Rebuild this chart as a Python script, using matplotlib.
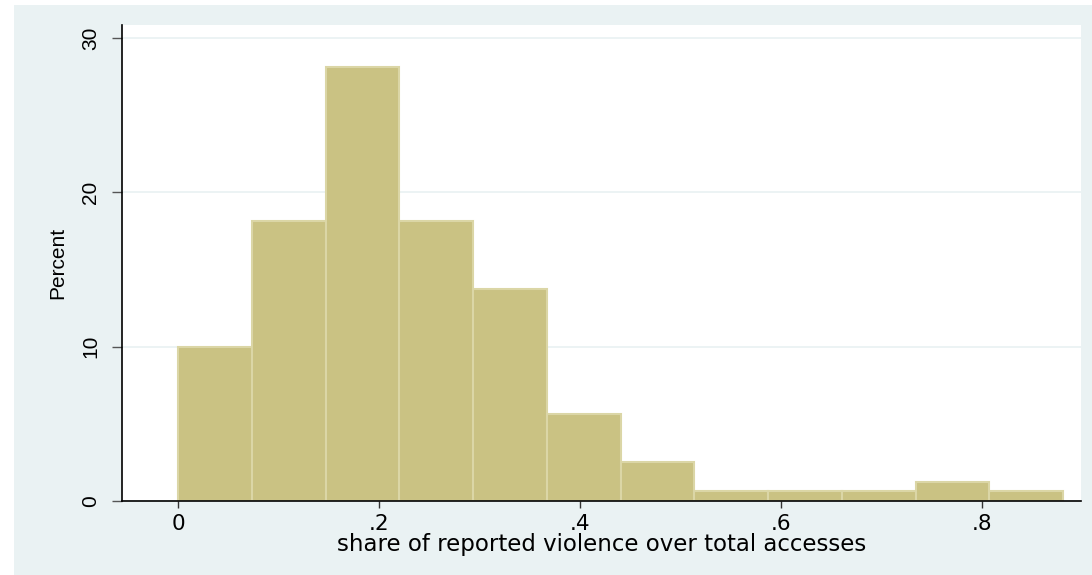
import matplotlib.pyplot as plt
from matplotlib.patches import Rectangle

# histogram bins (share of reported violence) and percent of observations per bin
bin_edges = [0.0, 0.0734, 0.1468, 0.2202, 0.2936, 0.367, 0.4404,
             0.5138, 0.5872, 0.6606, 0.734, 0.8074, 0.8808]
percent = [10.0, 18.125, 28.125, 18.125, 13.75, 5.625, 2.5,
           0.625, 0.625, 0.625, 1.25, 0.625]

x_ticks = [0, 0.2, 0.4, 0.6, 0.8]
x_tick_labels = ["0", ".2", ".4", ".6", ".8"]
y_ticks = [0, 10, 20, 30]

bg = "#eaf2f3"
bar_fill = "#cac283"
bar_line = "#dbd6a6"

fig = plt.figure(figsize=(10.92, 5.75), dpi=100)
fig.patch.set_facecolor("white")
# graph region background, kept behind the axes
fig.add_artist(Rectangle((14 / 1092, 0), 1 - 14 / 1092, 1 - 5 / 575,
                         transform=fig.transFigure, facecolor=bg,
                         edgecolor="none", zorder=-10))

ax = fig.add_axes([122 / 1092, 74 / 575, 958.7 / 1092, 476 / 575])
ax.set_facecolor("white")

widths = [bin_edges[i + 1] - bin_edges[i] for i in range(len(percent))]
ax.bar(bin_edges[:-1], percent, width=widths, align="edge",
       color=bar_fill, edgecolor=bar_line, linewidth=1.5, zorder=2)

ax.set_xlim(-0.0557, 0.8982)
ax.set_ylim(0, 30.83)

ax.set_yticks(y_ticks)
ax.set_yticklabels([str(t) for t in y_ticks], rotation=90, va="center",
                   fontsize=15, family="Liberation Sans")
ax.set_xticks(x_ticks)
ax.set_xticklabels(x_tick_labels, fontsize=15.5, family="DejaVu Sans")

ax.yaxis.grid(True, color=bg, linewidth=1.3, zorder=0)
ax.set_axisbelow(True)

for side in ["top", "right"]:
    ax.spines[side].set_visible(False)
for side in ["left", "bottom"]:
    ax.spines[side].set_color("black")
    ax.spines[side].set_linewidth(1.2)

ax.tick_params(axis="y", direction="out", length=7.5, width=1, color="#555555", pad=8)
ax.tick_params(axis="x", direction="out", length=5, width=1, color="#333333", pad=4)

ax.set_xlabel("share of reported violence over total accesses", fontsize=16.5,
              family="DejaVu Sans", labelpad=0)
ax.set_ylabel("Percent", fontsize=15, family="Liberation Sans", labelpad=10)

fig.savefig("out.png", dpi=100, facecolor=fig.get_facecolor())
